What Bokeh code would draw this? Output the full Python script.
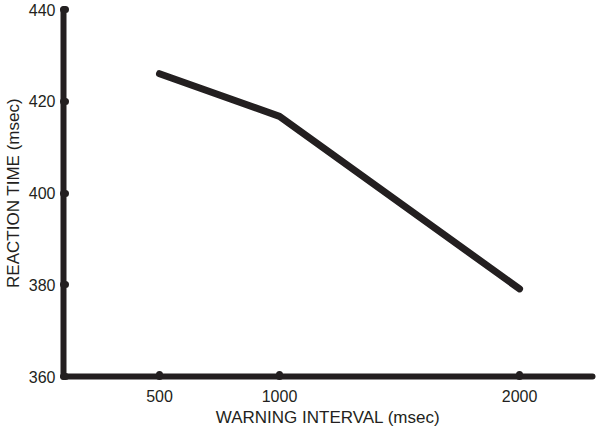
from bokeh.plotting import figure
from bokeh.models import FixedTicker, Range1d
from bokeh.embed import file_html
from bokeh.resources import INLINE

# Data
warning_interval = [500, 1000, 2000]
reaction_time = [426, 416.7, 379.1]
x_ticks = [500, 1000, 2000]
y_ticks = [360, 380, 400, 420, 440]

INK = "#231f20"

p = figure(frame_width=529, frame_height=367, output_backend="svg", toolbar_location=None,
           x_range=Range1d(100, 2304), y_range=Range1d(360, 440),
           min_border_left=58, min_border_right=5, min_border_top=9, min_border_bottom=0)
p.outline_line_color = None
p.grid.grid_line_color = None
p.background_fill_color = "white"
p.border_fill_color = "white"

p.line(warning_interval, reaction_time, line_width=7, line_color=INK, line_cap="round", line_join="round")

for ax in (p.xaxis[0], p.yaxis[0]):
    ax.axis_line_width = 6
    ax.axis_line_color = INK
    ax.axis_line_cap = "round"
    ax.major_tick_in = 2
    ax.major_tick_out = 0
    ax.major_tick_line_width = 7
    ax.major_tick_line_cap = "round"
    ax.major_tick_line_color = INK
    ax.minor_tick_line_color = None
    ax.major_label_text_font = "Liberation Sans"
    ax.major_label_text_font_size = "16px"
    ax.major_label_text_color = INK
    ax.axis_label_text_font = "Liberation Sans"
    ax.axis_label_text_font_size = "17px"
    ax.axis_label_text_font_style = "normal"
    ax.axis_label_text_color = INK

p.xaxis[0].ticker = FixedTicker(ticks=x_ticks)
p.yaxis[0].ticker = FixedTicker(ticks=y_ticks)
p.xaxis[0].axis_label = "WARNING INTERVAL (msec)"
p.yaxis[0].axis_label = "REACTION TIME (msec)"
p.xaxis[0].major_label_standoff = 13
p.yaxis[0].major_label_standoff = 8
p.xaxis[0].axis_label_standoff = 3
p.yaxis[0].axis_label_standoff = 3

open("out.html", "w").write(file_html(p, INLINE))
